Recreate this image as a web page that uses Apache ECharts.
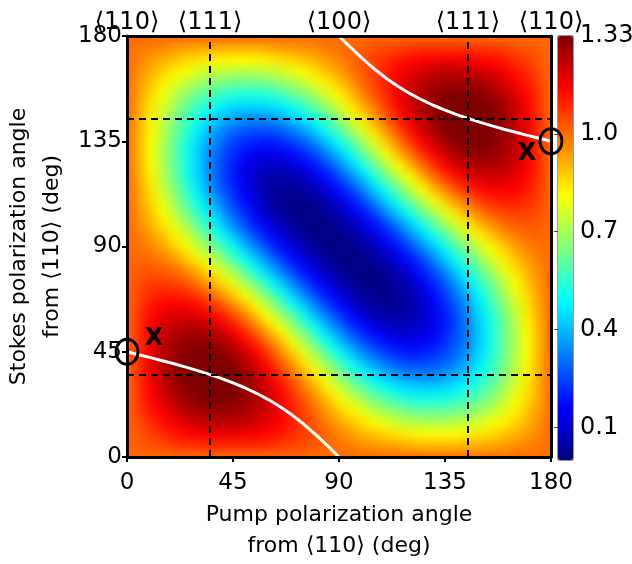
<!DOCTYPE html>
<html>
<head>
<meta charset="utf-8">
<script src="https://cdn.jsdelivr.net/npm/echarts@6/dist/echarts.min.js"></script>
<style>
html,body{margin:0;padding:0;background:#ffffff;}
#wrap{position:relative;width:632px;height:564px;background:#ffffff;}
#heat{position:absolute;left:0;top:0;width:632px;height:564px;filter:blur(5px);clip-path:inset(36px 81px 107px 127px);}
#chart{position:absolute;left:0;top:0;width:632px;height:564px;}
</style>
</head>
<body>
<div id="wrap"><div id="heat"></div><div id="chart"></div></div>
<script>
// ---- axes: pump (x) and Stokes (y) polarization angles, deg ----
const pumpAngles   = [0,5,10,15,20,25,30,35,40,45,50,55,60,65,70,75,80,85,90,95,100,105,110,115,120,125,130,135,140,145,150,155,160,165,170,175,180];
const stokesAngles = [0,5,10,15,20,25,30,35,40,45,50,55,60,65,70,75,80,85,90,95,100,105,110,115,120,125,130,135,140,145,150,155,160,165,170,175,180];

// ---- relative Raman gain, one row per Stokes angle (values across pump angles) ----
const gainS000 = [1.00,1.00,1.00,1.00,1.00,1.00,1.00,1.00,1.00,1.00,1.00,1.00,1.00,1.00,1.00,1.00,1.00,1.00,1.00,1.00,1.00,1.00,1.00,1.00,1.00,1.00,1.00,1.00,1.00,1.00,1.00,1.00,1.00,1.00,1.00,1.00,1.00];
const gainS005 = [1.00,1.02,1.03,1.04,1.06,1.07,1.07,1.08,1.08,1.08,1.08,1.08,1.07,1.06,1.05,1.04,1.02,1.01,0.99,0.98,0.96,0.95,0.94,0.93,0.92,0.91,0.91,0.91,0.91,0.92,0.92,0.93,0.94,0.96,0.97,0.98,1.00];
const gainS010 = [1.00,1.03,1.06,1.08,1.11,1.13,1.14,1.15,1.16,1.16,1.15,1.14,1.13,1.11,1.08,1.06,1.03,1.00,0.97,0.94,0.91,0.89,0.86,0.85,0.83,0.82,0.81,0.81,0.82,0.83,0.85,0.86,0.89,0.91,0.94,0.97,1.00];
const gainS015 = [1.00,1.04,1.08,1.12,1.15,1.18,1.20,1.21,1.22,1.22,1.21,1.19,1.17,1.14,1.10,1.06,1.02,0.98,0.93,0.89,0.85,0.81,0.78,0.75,0.73,0.72,0.71,0.72,0.73,0.74,0.77,0.80,0.83,0.87,0.91,0.96,1.00];
const gainS020 = [1.00,1.06,1.11,1.15,1.19,1.23,1.25,1.26,1.27,1.26,1.25,1.22,1.19,1.15,1.10,1.05,1.00,0.94,0.88,0.83,0.78,0.73,0.69,0.66,0.63,0.62,0.62,0.62,0.64,0.66,0.69,0.73,0.78,0.83,0.89,0.94,1.00];
const gainS025 = [1.00,1.07,1.13,1.18,1.23,1.26,1.29,1.30,1.30,1.29,1.27,1.24,1.20,1.15,1.09,1.03,0.96,0.89,0.82,0.76,0.70,0.64,0.60,0.56,0.53,0.52,0.52,0.53,0.55,0.58,0.62,0.67,0.73,0.80,0.86,0.93,1.00];
const gainS030 = [1.00,1.07,1.14,1.20,1.25,1.29,1.31,1.32,1.32,1.31,1.28,1.24,1.19,1.13,1.06,0.98,0.91,0.83,0.75,0.68,0.61,0.55,0.50,0.46,0.44,0.43,0.43,0.44,0.47,0.51,0.56,0.62,0.69,0.77,0.85,0.92,1.00];
const gainS035 = [1.00,1.08,1.15,1.21,1.26,1.30,1.32,1.33,1.33,1.31,1.27,1.22,1.16,1.09,1.01,0.93,0.84,0.76,0.67,0.59,0.52,0.46,0.41,0.37,0.35,0.34,0.34,0.37,0.40,0.45,0.51,0.58,0.66,0.74,0.83,0.92,1.00];
const gainS040 = [1.00,1.08,1.16,1.22,1.27,1.30,1.32,1.33,1.31,1.29,1.24,1.19,1.12,1.04,0.95,0.86,0.77,0.68,0.59,0.51,0.43,0.37,0.32,0.28,0.26,0.26,0.27,0.30,0.34,0.40,0.47,0.55,0.64,0.73,0.82,0.91,1.00];
const gainS045 = [1.00,1.08,1.16,1.22,1.26,1.29,1.31,1.31,1.29,1.25,1.20,1.14,1.06,0.97,0.88,0.78,0.69,0.59,0.50,0.42,0.34,0.28,0.24,0.21,0.19,0.20,0.22,0.25,0.30,0.37,0.44,0.53,0.62,0.72,0.81,0.91,1.00];
const gainS050 = [1.00,1.08,1.15,1.21,1.25,1.27,1.28,1.27,1.24,1.20,1.14,1.07,0.99,0.90,0.80,0.70,0.60,0.50,0.41,0.33,0.26,0.21,0.17,0.14,0.13,0.14,0.17,0.22,0.27,0.34,0.43,0.52,0.62,0.71,0.81,0.91,1.00];
const gainS055 = [1.00,1.08,1.14,1.19,1.22,1.24,1.24,1.22,1.19,1.14,1.07,0.99,0.90,0.81,0.71,0.61,0.51,0.42,0.33,0.25,0.19,0.14,0.11,0.09,0.09,0.11,0.14,0.20,0.26,0.34,0.43,0.52,0.62,0.72,0.82,0.91,1.00];
const gainS060 = [1.00,1.07,1.13,1.17,1.19,1.20,1.19,1.16,1.12,1.06,0.99,0.90,0.81,0.72,0.62,0.52,0.42,0.33,0.25,0.18,0.13,0.08,0.06,0.05,0.06,0.09,0.13,0.19,0.26,0.35,0.44,0.53,0.63,0.73,0.83,0.92,1.00];
const gainS065 = [1.00,1.06,1.11,1.14,1.15,1.15,1.13,1.09,1.04,0.97,0.90,0.81,0.72,0.62,0.52,0.43,0.33,0.25,0.18,0.12,0.07,0.04,0.03,0.03,0.05,0.09,0.14,0.21,0.28,0.37,0.46,0.56,0.66,0.75,0.85,0.93,1.00];
const gainS070 = [1.00,1.05,1.08,1.10,1.10,1.09,1.06,1.01,0.95,0.88,0.80,0.71,0.62,0.52,0.43,0.34,0.25,0.18,0.12,0.07,0.03,0.02,0.01,0.03,0.06,0.11,0.17,0.24,0.32,0.41,0.50,0.60,0.69,0.78,0.86,0.94,1.00];
const gainS075 = [1.00,1.04,1.06,1.06,1.05,1.03,0.98,0.93,0.86,0.78,0.70,0.61,0.52,0.43,0.34,0.25,0.18,0.12,0.07,0.03,0.01,0.00,0.02,0.04,0.08,0.14,0.21,0.28,0.37,0.46,0.55,0.64,0.73,0.81,0.89,0.95,1.00];
const gainS080 = [1.00,1.02,1.03,1.02,1.00,0.96,0.91,0.84,0.77,0.69,0.60,0.51,0.42,0.33,0.25,0.18,0.12,0.07,0.03,0.01,0.00,0.01,0.03,0.07,0.13,0.19,0.26,0.34,0.43,0.52,0.61,0.70,0.78,0.85,0.91,0.96,1.00];
const gainS085 = [1.00,1.01,1.00,0.98,0.94,0.89,0.83,0.76,0.68,0.59,0.50,0.42,0.33,0.25,0.18,0.12,0.07,0.03,0.01,0.00,0.01,0.03,0.07,0.12,0.18,0.25,0.33,0.42,0.51,0.59,0.68,0.76,0.83,0.89,0.94,0.98,1.00];
const gainS090 = [1.00,0.99,0.97,0.93,0.88,0.82,0.75,0.67,0.59,0.50,0.41,0.33,0.25,0.18,0.12,0.07,0.03,0.01,0.00,0.01,0.03,0.07,0.12,0.18,0.25,0.33,0.41,0.50,0.59,0.67,0.75,0.82,0.88,0.93,0.97,0.99,1.00];
const gainS095 = [1.00,0.98,0.94,0.89,0.83,0.76,0.68,0.59,0.51,0.42,0.33,0.25,0.18,0.12,0.07,0.03,0.01,0.00,0.01,0.03,0.07,0.12,0.18,0.25,0.33,0.42,0.50,0.59,0.68,0.76,0.83,0.89,0.94,0.98,1.00,1.01,1.00];
const gainS100 = [1.00,0.96,0.91,0.85,0.78,0.70,0.61,0.52,0.43,0.34,0.26,0.19,0.13,0.07,0.03,0.01,0.00,0.01,0.03,0.07,0.12,0.18,0.25,0.33,0.42,0.51,0.60,0.69,0.77,0.84,0.91,0.96,1.00,1.02,1.03,1.02,1.00];
const gainS105 = [1.00,0.95,0.89,0.81,0.73,0.64,0.55,0.46,0.37,0.28,0.21,0.14,0.08,0.04,0.02,0.00,0.01,0.03,0.07,0.12,0.18,0.25,0.34,0.43,0.52,0.61,0.70,0.78,0.86,0.93,0.98,1.03,1.05,1.06,1.06,1.04,1.00];
const gainS110 = [1.00,0.94,0.86,0.78,0.69,0.60,0.50,0.41,0.32,0.24,0.17,0.11,0.06,0.03,0.01,0.02,0.03,0.07,0.12,0.18,0.25,0.34,0.43,0.52,0.62,0.71,0.80,0.88,0.95,1.01,1.06,1.09,1.10,1.10,1.08,1.05,1.00];
const gainS115 = [1.00,0.93,0.85,0.75,0.66,0.56,0.46,0.37,0.28,0.21,0.14,0.09,0.05,0.03,0.03,0.04,0.07,0.12,0.18,0.25,0.33,0.43,0.52,0.62,0.72,0.81,0.90,0.97,1.04,1.09,1.13,1.15,1.15,1.14,1.11,1.06,1.00];
const gainS120 = [1.00,0.92,0.83,0.73,0.63,0.53,0.44,0.35,0.26,0.19,0.13,0.09,0.06,0.05,0.06,0.08,0.13,0.18,0.25,0.33,0.42,0.52,0.62,0.72,0.81,0.90,0.99,1.06,1.12,1.16,1.19,1.20,1.19,1.17,1.13,1.07,1.00];
const gainS125 = [1.00,0.91,0.82,0.72,0.62,0.52,0.43,0.34,0.26,0.20,0.14,0.11,0.09,0.09,0.11,0.14,0.19,0.25,0.33,0.42,0.51,0.61,0.71,0.81,0.90,0.99,1.07,1.14,1.19,1.22,1.24,1.24,1.22,1.19,1.14,1.08,1.00];
const gainS130 = [1.00,0.91,0.81,0.71,0.62,0.52,0.43,0.34,0.27,0.22,0.17,0.14,0.13,0.14,0.17,0.21,0.26,0.33,0.41,0.50,0.60,0.70,0.80,0.90,0.99,1.07,1.14,1.20,1.24,1.27,1.28,1.27,1.25,1.21,1.15,1.08,1.00];
const gainS135 = [1.00,0.91,0.81,0.72,0.62,0.53,0.44,0.37,0.30,0.25,0.22,0.20,0.19,0.21,0.24,0.28,0.34,0.42,0.50,0.59,0.69,0.78,0.88,0.97,1.06,1.14,1.20,1.25,1.29,1.31,1.31,1.29,1.26,1.22,1.16,1.08,1.00];
const gainS140 = [1.00,0.91,0.82,0.73,0.64,0.55,0.47,0.40,0.34,0.30,0.27,0.26,0.26,0.28,0.32,0.37,0.43,0.51,0.59,0.68,0.77,0.86,0.95,1.04,1.12,1.19,1.24,1.29,1.31,1.33,1.32,1.30,1.27,1.22,1.16,1.08,1.00];
const gainS145 = [1.00,0.92,0.83,0.74,0.66,0.58,0.51,0.45,0.40,0.37,0.34,0.34,0.35,0.37,0.41,0.46,0.52,0.59,0.67,0.76,0.84,0.93,1.01,1.09,1.16,1.22,1.27,1.31,1.33,1.33,1.32,1.30,1.26,1.21,1.15,1.08,1.00];
const gainS150 = [1.00,0.92,0.85,0.77,0.69,0.62,0.56,0.51,0.47,0.44,0.43,0.43,0.44,0.46,0.50,0.55,0.61,0.68,0.75,0.83,0.91,0.98,1.06,1.13,1.19,1.24,1.28,1.31,1.32,1.32,1.31,1.29,1.25,1.20,1.14,1.07,1.00];
const gainS155 = [1.00,0.93,0.86,0.80,0.73,0.67,0.62,0.58,0.55,0.53,0.52,0.52,0.53,0.56,0.60,0.64,0.70,0.76,0.82,0.89,0.96,1.03,1.09,1.15,1.20,1.24,1.27,1.29,1.30,1.30,1.29,1.26,1.23,1.18,1.13,1.07,1.00];
const gainS160 = [1.00,0.94,0.89,0.83,0.78,0.73,0.69,0.66,0.64,0.62,0.62,0.62,0.63,0.66,0.69,0.73,0.78,0.83,0.88,0.94,1.00,1.05,1.10,1.15,1.19,1.22,1.25,1.26,1.27,1.26,1.25,1.23,1.19,1.15,1.11,1.06,1.00];
const gainS165 = [1.00,0.96,0.91,0.87,0.83,0.80,0.77,0.74,0.73,0.72,0.71,0.72,0.73,0.75,0.78,0.81,0.85,0.89,0.93,0.98,1.02,1.06,1.10,1.14,1.17,1.19,1.21,1.22,1.22,1.21,1.20,1.18,1.15,1.12,1.08,1.04,1.00];
const gainS170 = [1.00,0.97,0.94,0.91,0.89,0.86,0.85,0.83,0.82,0.81,0.81,0.82,0.83,0.85,0.86,0.89,0.91,0.94,0.97,1.00,1.03,1.06,1.08,1.11,1.13,1.14,1.15,1.16,1.16,1.15,1.14,1.13,1.11,1.08,1.06,1.03,1.00];
const gainS175 = [1.00,0.98,0.97,0.96,0.94,0.93,0.92,0.92,0.91,0.91,0.91,0.91,0.92,0.93,0.94,0.95,0.96,0.98,0.99,1.01,1.02,1.04,1.05,1.06,1.07,1.08,1.08,1.08,1.08,1.08,1.07,1.07,1.06,1.04,1.03,1.02,1.00];
const gainS180 = [1.00,1.00,1.00,1.00,1.00,1.00,1.00,1.00,1.00,1.00,1.00,1.00,1.00,1.00,1.00,1.00,1.00,1.00,1.00,1.00,1.00,1.00,1.00,1.00,1.00,1.00,1.00,1.00,1.00,1.00,1.00,1.00,1.00,1.00,1.00,1.00,1.00];

const gainRows = [gainS000,gainS005,gainS010,gainS015,gainS020,gainS025,gainS030,gainS035,gainS040,gainS045,
  gainS050,gainS055,gainS060,gainS065,gainS070,gainS075,gainS080,gainS085,gainS090,gainS095,gainS100,gainS105,
  gainS110,gainS115,gainS120,gainS125,gainS130,gainS135,gainS140,gainS145,gainS150,gainS155,gainS160,gainS165,
  gainS170,gainS175,gainS180];

// ---- optimal Stokes angle (white curve), two branches ----
const optPumpLeft    = [0,5,10,15,20,25,30,35,40,45,50,55,60,65,70,75,80,85,90];
const optStokesLeft  = [45,43.75,42.48,41.18,39.84,38.44,36.95,35.35,33.62,31.72,29.61,27.24,24.55,21.50,18.03,14.10,9.71,4.96,0];
const optPumpRight   = [90,95,100,105,110,115,120,125,130,135,140,145,150,155,160,165,170,175,180];
const optStokesRight = [180,175.04,170.29,165.90,161.97,158.50,155.45,152.76,150.39,148.28,146.38,144.65,143.05,141.56,140.16,138.82,137.52,136.25,135];

// ---- crystal directions (top axis + dashed guide lines) ----
const crystalAngles = [0, 35.26, 90, 144.74, 180];
const crystalLabels = ['\u27E8110\u27E9','\u27E8111\u27E9','\u27E8100\u27E9','\u27E8111\u27E9','\u27E8110\u27E9'];

// ---- marked operating points ----
const markPump   = [0, 180];
const markStokes = [45, 135];
const markText   = ['X', 'X'];

// ---- colour bar ----
const colorbarTicks      = [0.1, 0.4, 0.7, 1.0, 1.3];
const colorbarTickLabels = ['0.1', '0.4', '0.7', '1.0', '1.33'];
const jetColors = ['#00007F','#0000FF','#007FFF','#00FFFF','#7FFF7F','#FFFF00','#FF7F00','#FF0000','#7F0000'];

// ---- build series data ----
const heatData = [];
gainRows.forEach((row, j) => row.forEach((v, i) => heatData.push([pumpAngles[i], stokesAngles[j], v])));
const halfStep = (pumpAngles[1] - pumpAngles[0]) / 2;
const xFirst = pumpAngles[0], xLast = pumpAngles[pumpAngles.length - 1];
const yFirst = stokesAngles[0], yLast = stokesAngles[stokesAngles.length - 1];
const leftCurve  = optPumpLeft.map((p, i) => [p, optStokesLeft[i]]);
const rightCurve = optPumpRight.map((p, i) => [p, optStokesRight[i]]);

const FONT = 'DejaVu Sans, Liberation Sans, Arial, sans-serif';
const GRID = { left: 127, top: 36, width: 424, height: 421, containLabel: false, outerBoundsMode: 'none' };
const visualBase = { type: 'continuous', min: 0, max: 1.3, dimension: 2, calculable: false, realtime: false,
                     inRange: { color: jetColors } };

// ---------- layer 1: the gain map (smoothed by a CSS blur on its own canvas) ----------
const heat = echarts.init(document.getElementById('heat'), null, { renderer: 'canvas' });
heat.setOption({
  animation: false,
  grid: [GRID],
  xAxis: [{ type: 'value', min: 0, max: 180, show: false }],
  yAxis: [{ type: 'value', min: 0, max: 180, show: false }],
  visualMap: Object.assign({ show: false, seriesIndex: 0 }, visualBase),
  series: [{
    type: 'custom', name: 'gain', clip: false,
    dimensions: ['pump', 'stokes', 'gain'],
    encode: { x: 0, y: 1 },
    data: heatData,
    renderItem: (params, api) => {
      const x = api.value(0), y = api.value(1);
      const p1 = api.coord([x - halfStep, y + halfStep]);
      const p2 = api.coord([x + halfStep, y - halfStep]);
      let x0 = p1[0], y0 = p1[1], x1 = p2[0] + 1, y1 = p2[1] + 1;
      const pad = 16;
      if (x === xFirst) x0 -= pad;
      if (x === xLast) x1 += pad;
      if (y === yLast) y0 -= pad;
      if (y === yFirst) y1 += pad;
      return { type: 'rect', shape: { x: x0, y: y0, width: x1 - x0, height: y1 - y0 },
               style: { fill: api.visual('color') } };
    }
  }]
});

// ---------- layer 2: axes, guides, optimum curve, marks, colour bar ----------
const labelOffsets = [[27, -13], [-24, 13]];
const markData = markPump.map((p, i) => ({
  value: [p, markStokes[i]],
  label: { show: true, formatter: markText[i], offset: labelOffsets[i], position: 'inside',
           fontSize: 24, fontWeight: 'bold', color: '#000', fontFamily: FONT }
}));
const nearestLabel = (vals, labels) => (v) => {
  let k = 0, best = 1e9;
  vals.forEach((a, i) => { if (Math.abs(a - v) < best) { best = Math.abs(a - v); k = i; } });
  return labels[k];
};

const chart = echarts.init(document.getElementById('chart'), null, { renderer: 'canvas' });
chart.setOption({
  backgroundColor: 'transparent',
  animation: false,
  textStyle: { fontFamily: FONT, color: '#000' },
  grid: [
    GRID,
    { left: 558, top: 36, width: 15, height: 424, containLabel: false, outerBoundsMode: 'none', show: true,
      borderColor: '#333', borderWidth: 1, backgroundColor: 'transparent' }
  ],
  xAxis: [
    { type: 'value', gridIndex: 0, min: 0, max: 180, interval: 45, position: 'bottom', z: 6,
      axisLine: { show: true, onZero: false, lineStyle: { color: '#000', width: 3 } },
      axisTick: { show: true, length: 5, lineStyle: { color: '#000', width: 2 } },
      axisLabel: { fontSize: 23, color: '#000', margin: 15, fontFamily: FONT },
      splitLine: { show: false },
      name: 'Pump polarization angle\nfrom \u27E8110\u27E9 (deg)', nameLocation: 'middle', nameGap: 43,
      nameTextStyle: { fontSize: 22, lineHeight: 31, color: '#000', fontFamily: FONT } },
    { type: 'value', gridIndex: 0, min: 0, max: 180, position: 'top', z: 6,
      axisLine: { show: true, onZero: false, lineStyle: { color: '#000', width: 3 } },
      axisTick: { show: false },
      axisLabel: { show: true, fontSize: 24, color: '#000', margin: 1, fontFamily: FONT,
        customValues: crystalAngles, formatter: nearestLabel(crystalAngles, crystalLabels) },
      splitLine: { show: false } },
    { type: 'value', gridIndex: 1, min: 0, max: 1, show: false }
  ],
  yAxis: [
    { type: 'value', gridIndex: 0, min: 0, max: 180, interval: 45, position: 'left', z: 6,
      axisLine: { show: true, onZero: false, lineStyle: { color: '#000', width: 3 } },
      axisTick: { show: true, length: 5, lineStyle: { color: '#000', width: 2 } },
      axisLabel: { fontSize: 23, color: '#000', margin: 5, fontFamily: FONT },
      splitLine: { show: false },
      name: 'Stokes polarization angle\nfrom \u27E8110\u27E9 (deg)', nameLocation: 'middle', nameGap: 58, nameRotate: 90,
      nameMoveOverlap: false,
      nameTextStyle: { fontSize: 22, lineHeight: 33, color: '#000', fontFamily: FONT } },
    { type: 'value', gridIndex: 0, min: 0, max: 180, position: 'right', z: 6,
      axisLine: { show: true, onZero: false, lineStyle: { color: '#000', width: 3 } },
      axisTick: { show: false }, axisLabel: { show: false }, splitLine: { show: false } },
    { type: 'value', gridIndex: 1, min: 0, max: 1.3, position: 'right', z: 6,
      axisLine: { show: false },
      axisTick: { show: true, inside: true, length: 4, customValues: colorbarTicks.slice(0, 4),
                  lineStyle: { color: '#444', width: 1 } },
      axisLabel: { show: true, fontSize: 24, color: '#000', margin: 7, fontFamily: FONT,
        customValues: colorbarTicks, formatter: nearestLabel(colorbarTicks, colorbarTickLabels) },
      splitLine: { show: false } }
  ],
  visualMap: Object.assign({
    show: true, seriesIndex: 0, orient: 'vertical',
    left: 558, top: 36, itemWidth: 15, itemHeight: 424, padding: 0, text: null, showLabel: false
  }, visualBase),
  series: [
    {
      type: 'line', name: 'guides', xAxisIndex: 0, yAxisIndex: 0, data: [], z: 3,
      markLine: {
        silent: true, symbol: 'none', animation: false,
        label: { show: false },
        lineStyle: { color: '#000', width: 2, type: [7, 5] },
        data: [
          { xAxis: crystalAngles[1] }, { xAxis: crystalAngles[3] },
          { yAxis: crystalAngles[1] }, { yAxis: crystalAngles[3] }
        ]
      }
    },
    {
      type: 'line', name: 'optimum-left', xAxisIndex: 0, yAxisIndex: 0, data: leftCurve, z: 4,
      showSymbol: false, symbol: 'none', smooth: false, clip: true,
      lineStyle: { color: '#ffffff', width: 3 }
    },
    {
      type: 'line', name: 'optimum-right', xAxisIndex: 0, yAxisIndex: 0, data: rightCurve, z: 4,
      showSymbol: false, symbol: 'none', smooth: false, clip: true,
      lineStyle: { color: '#ffffff', width: 3 }
    },
    {
      type: 'scatter', name: 'marks', xAxisIndex: 0, yAxisIndex: 0, z: 7, clip: false,
      symbol: 'circle', symbolSize: [22, 25],
      itemStyle: { color: 'rgba(0,0,0,0)', borderColor: '#000', borderWidth: 3, opacity: 1 },
      data: markData
    }
  ]
});
</script>
</body>
</html>
